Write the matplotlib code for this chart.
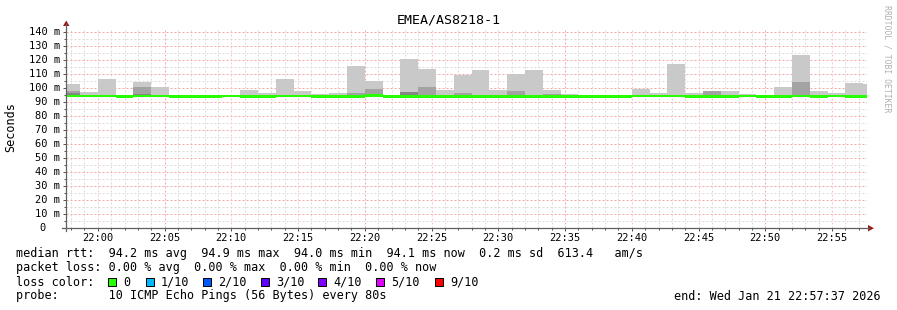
import matplotlib
matplotlib.use("Agg")
import matplotlib.pyplot as plt
import numpy as np
from matplotlib.patches import Polygon, Rectangle
from matplotlib.lines import Line2D
from matplotlib.transforms import offset_copy

# ---------------- data ----------------
title = "EMEA/AS8218-1"
step_seconds = 80
# window: 21:57:37 -> 22:57:37 ; times in minutes relative to 22:00
window_start_min = -(2 + 23 / 60)
window_len_min = 60

# median rtt per 80 s step (ms)
median_ms = [94.35, 94.35, 94.35, 94.0, 94.35, 94.35, 94.0, 94.0, 94.0, 94.35,
             94.0, 94.0, 94.35, 94.35, 94.0, 94.0, 94.0, 94.9, 94.2, 94.0,
             94.2, 94.2, 94.2, 94.0, 94.0, 94.0, 94.2, 94.0, 94.2, 94.0,
             94.0, 94.2, 94.35, 94.35, 94.35, 94.0, 94.0, 94.0, 94.35, 94.0,
             94.0, 94.35, 94.0, 94.35, 94.0, 94.0]
# max ping (light smoke top), nan = no smoke
smoke_max_ms = [103.0, 97.4, 106.5, np.nan, 104.5, 100.8, np.nan, np.nan, np.nan, np.nan,
                98.8, 96.7, 106.5, 98.0, 95.7, 96.7, 116.0, 105.0, np.nan, 120.7,
                113.6, 98.6, 109.3, 112.9, 98.6, 110.0, 112.9, 98.6, 95.9, np.nan,
                np.nan, np.nan, 99.3, 96.7, 117.0, 96.7, np.nan, 98.0, 95.9, np.nan,
                100.7, 123.6, 97.9, 96.4, 103.6, 103.0]
# medium smoke top
smoke_mid_ms = [98.0, np.nan, np.nan, np.nan, 100.5, np.nan, np.nan, np.nan, np.nan, np.nan,
                np.nan, np.nan, np.nan, np.nan, np.nan, np.nan, 96.7, 99.3, np.nan, np.nan,
                101.0, np.nan, 96.7, np.nan, np.nan, 97.5, np.nan, 95.9, np.nan, np.nan,
                np.nan, np.nan, np.nan, np.nan, np.nan, np.nan, 98.0, np.nan, np.nan, np.nan,
                np.nan, 104.3, np.nan, np.nan, np.nan, np.nan]
# dark smoke top
smoke_dark_ms = [96.7, np.nan, np.nan, np.nan, 95.5, np.nan, np.nan, np.nan, np.nan, np.nan,
                 np.nan, np.nan, np.nan, np.nan, np.nan, np.nan, np.nan, np.nan, np.nan, 97.4,
                 np.nan, np.nan, np.nan, np.nan, np.nan, np.nan, np.nan, np.nan, np.nan, np.nan,
                 np.nan, np.nan, np.nan, np.nan, np.nan, np.nan, np.nan, np.nan, np.nan, np.nan,
                 np.nan, np.nan, np.nan, np.nan, np.nan, np.nan]

x_tick_labels = ["22:00", "22:05", "22:10", "22:15", "22:20", "22:25",
                 "22:30", "22:35", "22:40", "22:45", "22:50", "22:55"]
y_tick_values = [0, 10, 20, 30, 40, 50, 60, 70, 80, 90, 100, 110, 120, 130, 140]

legend_rtt = "median rtt:  94.2 ms avg  94.9 ms max  94.0 ms min  94.1 ms now  0.2 ms sd  613.4   am/s"
legend_loss = "packet loss: 0.00 % avg  0.00 % max  0.00 % min  0.00 % now"
loss_labels = ["0", "1/10", "2/10", "3/10", "4/10", "5/10", "9/10"]
loss_colors = ["#26ff00", "#00b8ff", "#0059ff", "#5e00ff", "#7e00ff", "#dd00ff", "#ff0000"]
probe_text = "probe:       10 ICMP Echo Pings (56 Bytes) every 80s"
end_text = "end: Wed Jan 21 22:57:37 2026"
watermark = "RRDTOOL / TOBI OETIKER"

# ---------------- figure ----------------
W, H = 897, 310
fig = plt.figure(figsize=(W / 100, H / 100), dpi=100)
fig.patch.set_facecolor("white")
MONO = "DejaVu Sans Mono"
FS_AXIS, FS_LEG, FS_TITLE = 7.45, 8.5, 9.6

def fx(x):
    return x / W

def fy(y):
    return 1 - y / H

PL, PR, PT, PB = 66, 867, 28, 228
ax = fig.add_axes([fx(PL), fy(PB), (PR - PL) / W, (PB - PT) / H])
ax.set_facecolor("white")
t0 = window_start_min
t1 = t0 + window_len_min
ax.set_xlim(t0, t1)
ax.set_ylim(0, 200 / 1.4)

step_min = step_seconds / 60
inner = np.arange(-step_min, t1 - 1e-9, step_min)
edges = np.concatenate([[t0], inner, [t1]])
lefts = edges[:-1]
widths = np.diff(edges)

med = np.array(median_ms)
bottom = med - 0.6

def draw_layer(top, color):
    top = np.array(top)
    h = np.where(np.isnan(top), 0.0, top - bottom)
    ax.bar(lefts, h, width=widths, bottom=bottom, align="edge", color=color,
           linewidth=0, zorder=2)

draw_layer(smoke_max_ms, "#c9c9c9")
draw_layer(smoke_mid_ms, "#a3a3a3")
draw_layer(smoke_dark_ms, "#858585")
ax.bar(lefts, np.full(len(med), 2.0), width=widths, bottom=med - 1.0, align="edge",
       color="#26ff00", linewidth=0, zorder=3)

# grid
dots = (0, (2, 2))
xmin_minor = [m for m in range(-2, 58) if m % 5 != 0]
ymin_minor = [v for v in range(5, 145, 10)]
ax.set_xticks(np.arange(0, 56, 5))
ax.set_xticks(xmin_minor, minor=True)
ax.set_yticks(y_tick_values)
ax.set_yticks(ymin_minor, minor=True)
ax.grid(which="minor", color="#dcdcdc", linestyle=dots, linewidth=0.72, zorder=0)
ax.grid(which="major", axis="y", color="#f2a8a8", linestyle=dots, linewidth=0.72, zorder=0)
for m in range(0, 56, 5):
    strong = (m - 5) % 15 == 0
    ax.axvline(m, color="#f2a6a6" if strong else "#f6caca", linestyle=dots,
               linewidth=0.72, zorder=0.6, snap=True)
ax.set_axisbelow(True)
ax.tick_params(which="both", labelleft=False, labelbottom=False, direction="out",
               color="#555555", width=0.72)
ax.tick_params(which="major", length=2.2)
ax.tick_params(which="minor", length=1.4)
for s in ax.spines.values():
    s.set_visible(False)

# axis lines with arrows
fig.add_artist(Line2D([fx(PL), fx(PL)], [fy(PB + 3), fy(24)], color="#606060", linewidth=0.9))
fig.add_artist(Line2D([fx(PL - 4), fx(869)], [fy(PB), fy(PB)], color="#606060", linewidth=0.9))
fig.add_artist(Polygon([(fx(63), fy(26)), (fx(69.5), fy(26)), (fx(66.2), fy(20.5))],
                       closed=True, color="#9b1c1c", linewidth=0))
fig.add_artist(Polygon([(fx(868), fy(225)), (fx(868), fy(231.5)), (fx(874), fy(228.2))],
                       closed=True, color="#9b1c1c", linewidth=0))

# y tick labels
ytrans = offset_copy(ax.get_yaxis_transform(), fig=fig, x=-6 * 0.72, y=0, units="points")
ytrans0 = offset_copy(ax.get_yaxis_transform(), fig=fig, x=-20 * 0.72, y=0, units="points")
for v in y_tick_values:
    if v == 0:
        ax.text(0, 0, "0", transform=ytrans0, ha="right", va="center",
                fontsize=FS_AXIS, family=MONO, color="black")
    else:
        ax.text(0, v, f"{v} m", transform=ytrans, ha="right", va="center",
                fontsize=FS_AXIS, family=MONO, color="black")

# x tick labels
xtrans = offset_copy(ax.get_xaxis_transform(), fig=fig, x=0, y=-10 * 0.72, units="points")
for i, lab in enumerate(x_tick_labels):
    ax.text(5 * i, 0, lab, transform=xtrans, ha="center", va="center",
            fontsize=FS_AXIS, family=MONO, color="black")

# title, unit label, watermark
fig.text(fx(448.5), fy(20), title, ha="center", va="center", fontsize=FS_TITLE, family=MONO)
fig.text(fx(11), fy(127), "Seconds", ha="center", va="center", rotation=90, fontsize=FS_LEG, family=MONO)
fig.text(fx(887), fy(59), watermark, ha="center", va="center", rotation=270, fontsize=5.9,
         family=MONO, color="#b0b0b0")

# legend
fig.text(fx(16), fy(254), legend_rtt, ha="left", va="center", fontsize=FS_LEG, family=MONO)
fig.text(fx(16), fy(268), legend_loss, ha="left", va="center", fontsize=FS_LEG, family=MONO)
fig.text(fx(16), fy(282), "loss color:", ha="left", va="center", fontsize=FS_LEG, family=MONO)
box_x = [108, 146, 203, 261, 318, 376, 435]
for bx, lab, col in zip(box_x, loss_labels, loss_colors):
    fig.add_artist(Rectangle((fx(bx), fy(285.5)), 8 / W, 8 / H, facecolor=col,
                             edgecolor="black", linewidth=0.72))
    fig.text(fx(bx + 15), fy(282), lab, ha="left", va="center", fontsize=FS_LEG, family=MONO)
fig.text(fx(16), fy(296), probe_text, ha="left", va="center", fontsize=FS_LEG, family=MONO)
fig.text(fx(881), fy(296), end_text, ha="right", va="center", fontsize=FS_LEG, family=MONO)

fig.savefig("out.png", dpi=100, facecolor="white")
